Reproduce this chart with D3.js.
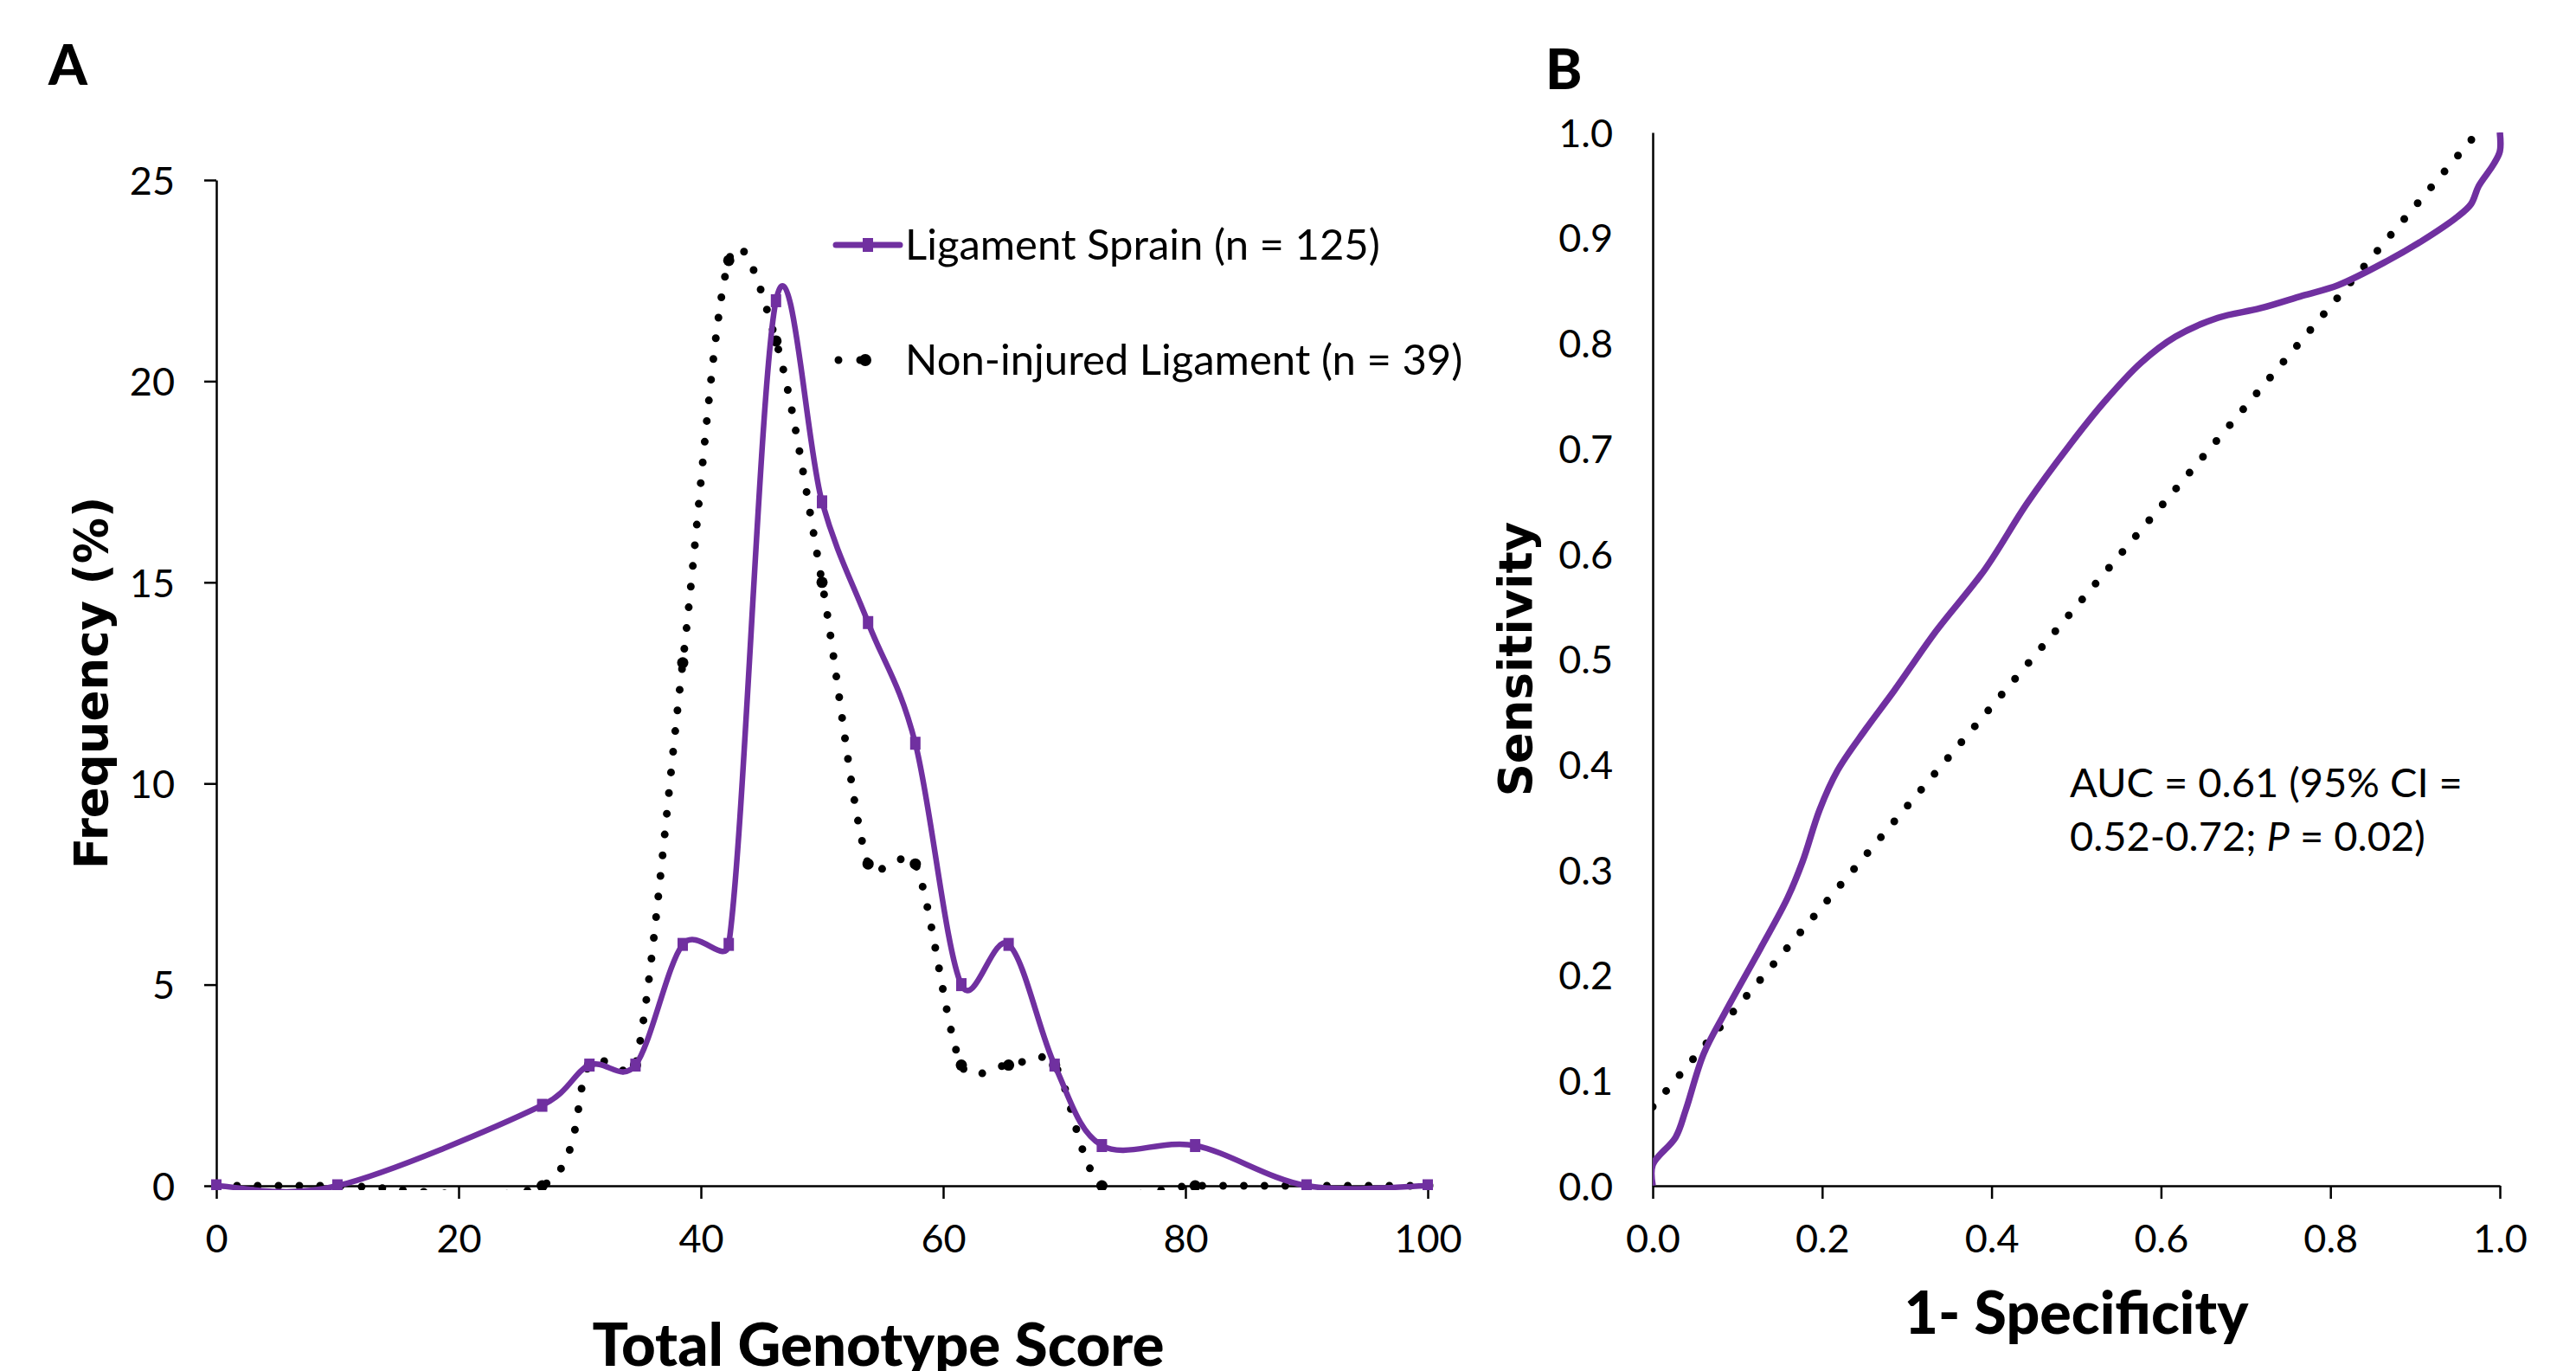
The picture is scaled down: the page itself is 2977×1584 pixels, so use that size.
<!DOCTYPE html>
<meta charset="utf-8">
<html>
  <head>
    <style>
      body { margin: 0; background: #fff; }
      .axis text {
        font-family: Lato, "Open Sans", sans-serif;
        font-size: 45px;
        fill: #000;
      }
      .axis path, .axis line {
        stroke: #000;
        stroke-width: 2.5px;
      }
      text.title {
        font-family: Lato, "Open Sans", sans-serif;
        font-weight: 900;
        font-size: 64px;
        fill: #000;
      }
      text.ytitle {
        font-family: "DejaVu Sans", Verdana, sans-serif;
        font-weight: bold;
        font-size: 53px;
        fill: #000;
      }
      text.note {
        font-family: Lato, "Open Sans", sans-serif;
        font-size: 47px;
        fill: #000;
      }
      text.legend { font-size: 49px; }
    </style>
    <script src="https://d3js.org/d3.v7.min.js"></script>
  </head>
  <body>
    <div id="chart"></div>
    <script type="text/javascript">
      // panel A: genotype score distribution
      var scores = [0, 10, 26.9, 30.8, 34.6, 38.5, 42.3, 46.2, 50, 53.8, 57.7, 61.5, 65.4, 69.2, 73.1, 80.8, 90, 100];
      var sprainPct = [0, 0, 2, 3, 3, 6, 6, 22, 17, 14, 11, 5, 6, 3, 1, 1, 0, 0];
      var nonInjuredPct = [0, 0, 0, 3, 3, 13, 23, 21, 15, 8, 8, 3, 3, 3, 0, 0, 0, 0];
      var seriesNames = ["Ligament Sprain (n = 125)", "Non-injured Ligament (n = 39)"];
      var scoreTicks = [0, 20, 40, 60, 80, 100];
      var pctTicks = [0, 5, 10, 15, 20, 25];

      // panel B: ROC curve + linear trend
      var rocFpr = [0, 0, 0.027, 0.039, 0.060, 0.085, 0.127, 0.159, 0.177, 0.197, 0.218, 0.251, 0.285, 0.334, 0.392, 0.442, 0.492, 0.534, 0.576, 0.617, 0.667, 0.717, 0.767, 0.809, 0.867, 0.908, 0.950, 0.966, 0.975, 0.992, 1.0, 1.0];
      var rocTpr = [0, 0.02, 0.046, 0.072, 0.125, 0.164, 0.225, 0.273, 0.308, 0.357, 0.394, 0.433, 0.470, 0.526, 0.585, 0.648, 0.703, 0.745, 0.781, 0.806, 0.824, 0.833, 0.845, 0.855, 0.878, 0.897, 0.920, 0.932, 0.949, 0.969, 0.982, 1.0];
      var trendFpr = [0, 1];
      var trendTpr = [0.075, 1.025];
      var specTicks = [0, 0.2, 0.4, 0.6, 0.8, 1.0];
      var sensTicks = [0, 0.1, 0.2, 0.3, 0.4, 0.5, 0.6, 0.7, 0.8, 0.9, 1.0];
      var aucLine1 = "AUC = 0.61 (95% CI =";
      var aucLine2 = ["0.52-0.72; ", "P", " = 0.02)"];

      var purple = "#7030A0";
      var W = 2977, H = 1584;

      // spreadsheet-style smoothed line: cardinal bezier, handles capped at half the chord
      function SmoothCurve(context) { this._context = context; }
      SmoothCurve.prototype = {
        areaStart: function() {}, areaEnd: function() {},
        lineStart: function() { this._p = []; },
        point: function(x, y) { this._p.push([+x, +y]); },
        lineEnd: function() {
          var p = this._p, c = this._context, n = p.length;
          function dist(a, b) { return Math.hypot(b[0] - a[0], b[1] - a[1]); }
          c.moveTo(p[0][0], p[0][1]);
          for (var i = 0; i < n - 1; i++) {
            var p0 = p[i - 1] || p[i], p1 = p[i], p2 = p[i + 1], p3 = p[i + 2] || p[i + 1];
            var d12 = dist(p1, p2), d02 = dist(p0, p2), d13 = dist(p1, p3);
            var f0 = 1 / 6, f1 = 1 / 6;
            if (d02 / 6 > d12 / 2 && d02 > 0) f0 = d12 / 2 / d02;
            if (d13 / 6 > d12 / 2 && d13 > 0) f1 = d12 / 2 / d13;
            c.bezierCurveTo(
              p1[0] + (p2[0] - p0[0]) * f0, p1[1] + (p2[1] - p0[1]) * f0,
              p2[0] - (p3[0] - p1[0]) * f1, p2[1] - (p3[1] - p1[1]) * f1,
              p2[0], p2[1]);
          }
        }
      };
      var curveSmooth = function(context) { return new SmoothCurve(context); };

      var svg = d3.select("#chart").append("svg")
          .attr("width", W)
          .attr("height", H);

      // ---------- panel A ----------
      var xA = d3.scaleLinear().domain([0, 100]).range([250, 1650]);
      var yA = d3.scaleLinear().domain([0, 25]).range([1370, 208]);

      svg.append("defs").append("clipPath").attr("id", "clipA")
        .append("rect").attr("x", 244).attr("y", 190).attr("width", 1414).attr("height", 1185);

      svg.append("g")
          .attr("class", "axis")
          .attr("transform", "translate(" + xA(0) + ",0)")
          .call(d3.axisLeft(yA).tickValues(pctTicks).tickSize(14).tickSizeOuter(0).tickPadding(34))
          .selectAll("text").attr("dy", "0.36em");

      var axA = svg.append("g")
          .attr("class", "axis")
          .attr("transform", "translate(0," + yA(0) + ")")
          .call(d3.axisBottom(xA).tickValues(scoreTicks).tickSize(15).tickSizeOuter(0));
      axA.selectAll("text").attr("dy", 0).attr("y", 77);

      var ptsSprain = scores.map(function(d, i) { return [d, sprainPct[i]]; });
      var ptsNon = scores.map(function(d, i) { return [d, nonInjuredPct[i]]; });

      var lineA = d3.line()
          .x(function(d) { return xA(d[0]); })
          .y(function(d) { return yA(d[1]); })
          .curve(curveSmooth);

      var gA = svg.append("g").attr("clip-path", "url(#clipA)");

      gA.append("path")
          .attr("d", lineA(ptsNon))
          .attr("fill", "none")
          .attr("stroke", "#000")
          .attr("stroke-width", 9)
          .attr("stroke-linecap", "round")
          .attr("stroke-dasharray", "0 24");

      gA.selectAll(".mk-non")
          .data(ptsNon)
          .enter().append("circle")
            .attr("class", "mk-non")
            .attr("cx", function(d) { return xA(d[0]); })
            .attr("cy", function(d) { return yA(d[1]); })
            .attr("r", 6.5)
            .attr("fill", "#000");

      gA.append("path")
          .attr("d", lineA(ptsSprain))
          .attr("fill", "none")
          .attr("stroke", purple)
          .attr("stroke-width", 6.5)
          .attr("stroke-linejoin", "round");

      gA.selectAll(".mk-spr")
          .data(ptsSprain)
          .enter().append("rect")
            .attr("class", "mk-spr")
            .attr("x", function(d) { return xA(d[0]) - 6; })
            .attr("y", function(d) { return yA(d[1]) - 7.5; })
            .attr("width", 12)
            .attr("height", 15)
            .attr("fill", purple);

      // legend
      var leg = svg.append("g");
      leg.append("line")
          .attr("x1", 966).attr("x2", 1040).attr("y1", 283).attr("y2", 283)
          .attr("stroke", purple).attr("stroke-width", 7).attr("stroke-linecap", "round");
      leg.append("rect")
          .attr("x", 997).attr("y", 275).attr("width", 12).attr("height", 16).attr("fill", purple);
      leg.append("text").attr("class", "note legend")
          .attr("x", 1046).attr("y", 300).text(seriesNames[0]);

      leg.append("line")
          .attr("x1", 969).attr("x2", 1019).attr("y1", 416).attr("y2", 416)
          .attr("stroke", "#000").attr("stroke-width", 9)
          .attr("stroke-linecap", "round").attr("stroke-dasharray", "0 25");
      leg.append("circle").attr("cx", 1000).attr("cy", 416).attr("r", 7).attr("fill", "#000");
      leg.append("text").attr("class", "note legend")
          .attr("x", 1046).attr("y", 433).text(seriesNames[1]);

      svg.append("text").attr("class", "title")
          .attr("x", 56).attr("y", 98).text("A");

      svg.append("text").attr("class", "ytitle")
          .attr("transform", "translate(124," + (yA(12.5)) + ") rotate(-90)")
          .attr("text-anchor", "middle")
          .text("Frequency (%)");

      svg.append("text").attr("class", "title")
          .attr("x", 1015).attr("y", 1578)
          .attr("text-anchor", "middle")
          .style("font-size", "69px")
          .text("Total Genotype Score");

      // ---------- panel B ----------
      var xB = d3.scaleLinear().domain([0, 1]).range([1910, 2889]);
      var yB = d3.scaleLinear().domain([0, 1]).range([1370, 153]);

      svg.select("defs").append("clipPath").attr("id", "clipB")
        .append("rect").attr("x", 1910).attr("y", 153).attr("width", 984).attr("height", 1222);

      var ayB = svg.append("g")
          .attr("class", "axis")
          .attr("transform", "translate(" + xB(0) + ",0)")
          .call(d3.axisLeft(yB).tickValues(sensTicks).tickSize(0).tickSizeOuter(0).tickPadding(46)
            .tickFormat(d3.format(".1f")));
      ayB.selectAll("text").attr("dy", "0.36em");

      var axB = svg.append("g")
          .attr("class", "axis")
          .attr("transform", "translate(0," + yB(0) + ")")
          .call(d3.axisBottom(xB).tickValues(specTicks).tickSize(15).tickSizeOuter(0)
            .tickFormat(d3.format(".1f")));
      axB.selectAll("text").attr("dy", 0).attr("y", 77);

      var lineB = d3.line()
          .x(function(d) { return xB(d[0]); })
          .y(function(d) { return yB(d[1]); });

      var gB = svg.append("g").attr("clip-path", "url(#clipB)");

      gB.append("path")
          .attr("d", lineB(trendFpr.map(function(d, i) { return [d, trendTpr[i]]; })))
          .attr("fill", "none")
          .attr("stroke", "#000")
          .attr("stroke-width", 9)
          .attr("stroke-linecap", "round")
          .attr("stroke-dasharray", "0 24");

      gB.append("path")
          .attr("d", lineB.curve(d3.curveCatmullRom.alpha(0.5))(rocFpr.map(function(d, i) { return [d, rocTpr[i]]; })))
          .attr("fill", "none")
          .attr("stroke", purple)
          .attr("stroke-width", 7.5)
          .attr("stroke-linejoin", "round");

      svg.append("text").attr("class", "title")
          .attr("x", 1786).attr("y", 103).text("B");

      svg.append("text").attr("class", "ytitle")
          .attr("transform", "translate(1770," + yB(0.5) + ") rotate(-90)")
          .attr("text-anchor", "middle")
          .text("Sensitivity");

      svg.append("text").attr("class", "title")
          .attr("x", xB(0.5)).attr("y", 1541)
          .attr("text-anchor", "middle")
          .style("font-size", "68px")
          .text("1- Specificity");

      svg.append("text").attr("class", "note")
          .attr("x", 2392).attr("y", 921).text(aucLine1);
      var t2 = svg.append("text").attr("class", "note")
          .attr("x", 2392).attr("y", 983);
      t2.selectAll("tspan")
          .data(aucLine2)
          .enter().append("tspan")
            .style("font-style", function(d, i) { return i === 1 ? "italic" : null; })
            .text(function(d) { return d; });
    </script>
  </body>
</html>
